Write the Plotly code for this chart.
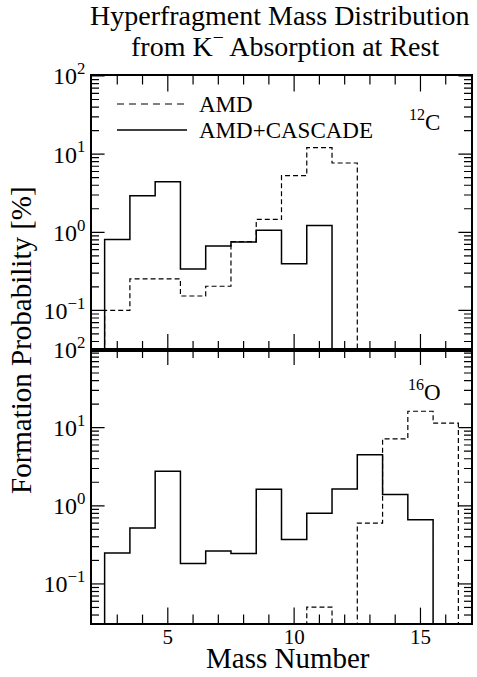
import plotly.graph_objects as go

# ---------------- data ----------------
mass_amd_c12 = [3, 4, 5, 6, 7, 8, 9, 10, 11, 12]
prob_amd_c12 = [0.10, 0.254, 0.254, 0.153, 0.204, 0.76, 1.46, 5.3, 12.1, 7.7]

mass_cas_c12 = [3, 4, 5, 6, 7, 8, 9, 10, 11]
prob_cas_c12 = [0.81, 2.93, 4.44, 0.34, 0.67, 0.75, 1.06, 0.395, 1.22]

mass_amd_o16 = [11, 12, 13, 14, 15, 16]
prob_amd_o16 = [0.0506, 0.0, 0.60, 7.2, 16.2, 11.4]

mass_cas_o16 = [3, 4, 5, 6, 7, 8, 9, 10, 11, 12, 13, 14, 15]
prob_cas_o16 = [0.248, 0.519, 2.76, 0.182, 0.264, 0.246, 1.63, 0.37, 0.80,
                1.64, 4.49, 1.39, 0.665]

x_ticks = [5, 10, 15]
x_minor = [v for v in range(3, 17) if v not in x_ticks]
y_ticks = [0.1, 1, 10, 100]
y_ticktext = ["10<sup>−1</sup>", "10<sup>0</sup>", "10<sup>1</sup>", "10<sup>2</sup>"]
y_minor = [k * 10.0 ** e for e in (-2, -1, 0, 1) for k in range(2, 10)
           if k * 10.0 ** e >= 0.0316]

X_RANGE = [2, 17]
Y_LOGRANGE = [-1.5, 2]

FONT = "Liberation Serif"
FLOOR = 1e-4  # zero / below-range level for histogram edges


def step(masses, probs):
    xs = [masses[0] - 0.5]
    ys = [FLOOR]
    for a, p in zip(masses, probs):
        p = p if p > 0 else FLOOR
        xs += [a - 0.5, a + 0.5]
        ys += [p, p]
    xs.append(masses[-1] + 0.5)
    ys.append(FLOOR)
    return xs, ys


fig = go.Figure()

solid = dict(color="black", width=1.5)
dashed = dict(color="black", width=1.2, dash="5px,3px")

for (m, p, ln, name, xa, ya) in [
    (mass_amd_c12, prob_amd_c12, dashed, "AMD", "x2", "y2"),
    (mass_cas_c12, prob_cas_c12, solid, "AMD+CASCADE", "x2", "y2"),
    (mass_amd_o16, prob_amd_o16, dashed, "AMD", "x", "y"),
    (mass_cas_o16, prob_cas_o16, solid, "AMD+CASCADE", "x", "y"),
]:
    xs, ys = step(m, p)
    fig.add_trace(go.Scatter(x=xs, y=ys, mode="lines", line=ln, name=name,
                             xaxis=xa, yaxis=ya, showlegend=False,
                             hoverinfo="skip"))

# ---- inside tick marks: line markers centred on the frame, clipped to the plot ----
y_lo, y_hi = 10 ** Y_LOGRANGE[0], 10 ** Y_LOGRANGE[1]


def tickmarks(xs, ys, symbol, length, xa, ya):
    fig.add_trace(go.Scatter(
        x=xs, y=ys, mode="markers", xaxis=xa, yaxis=ya, showlegend=False,
        hoverinfo="skip", cliponaxis=True,
        marker=dict(symbol=symbol, size=2 * length, color="black",
                    line=dict(color="black", width=1.2))))


for xa, ya in (("x", "y"), ("x2", "y2")):
    for vals, ln in ((x_ticks, 11), (x_minor, 6)):
        tickmarks(vals * 2, [y_lo] * len(vals) + [y_hi] * len(vals),
                  "line-ns", ln, xa, ya)
    for vals, ln in ((y_ticks, 9), (y_minor, 5)):
        tickmarks([X_RANGE[0]] * len(vals) + [X_RANGE[1]] * len(vals), vals * 2,
                  "line-ew", ln, xa, ya)

xcommon = dict(range=X_RANGE, showline=True, linecolor="black", linewidth=1.5,
               mirror=True, ticks="", tickmode="array", tickvals=x_ticks,
               showgrid=False, zeroline=False,
               tickfont=dict(family=FONT, size=21, color="black"))
ycommon = dict(type="log", range=Y_LOGRANGE, showline=True, linecolor="black",
               linewidth=1.5, mirror=True, ticks="", tickmode="array",
               tickvals=y_ticks, ticktext=y_ticktext, showgrid=False,
               zeroline=False, tickfont=dict(family=FONT, size=24, color="black"))

W, H = 477, 677
ML, MR, MT, MB = 92, 6, 76, 54
pw = W - ML - MR
ph = H - MT - MB


def px(x):
    return (x - ML) / pw


def py(y):
    return (H - MB - y) / ph


fig.update_layout(
    template="none",
    width=W, height=H,
    margin=dict(l=ML, r=MR, t=MT, b=MB),
    paper_bgcolor="white", plot_bgcolor="white",
    font=dict(family=FONT, color="black"),
    xaxis=dict(**xcommon, ticklabelstandoff=-6, domain=[0, 1], anchor="y"),
    yaxis=dict(**ycommon, domain=[0, 0.5], anchor="x"),
    xaxis2=dict(**xcommon, showticklabels=False, domain=[0, 1], anchor="y2"),
    yaxis2=dict(**ycommon, domain=[0.5, 1], anchor="x2"),
)

# ---- legend samples ----
fig.add_shape(type="line", xref="paper", yref="paper", x0=px(117), x1=px(187),
              y0=py(104), y1=py(104),
              line=dict(color="black", width=1.2, dash="7px,5px"))
fig.add_shape(type="line", xref="paper", yref="paper", x0=px(117), x1=px(187),
              y0=py(130), y1=py(130), line=dict(color="black", width=1.5))


def note(text, x, y, size, **kw):
    d = dict(text=text, xref="paper", yref="paper", x=px(x), y=py(y),
             xanchor="center", yanchor="middle", showarrow=False,
             font=dict(size=size, family=FONT, color="black"))
    d.update(kw)
    return d


ann = [
    note("Hyperfragment Mass Distribution", 280, 16, 28),
    note("from K<sup>−</sup> Absorption at Rest", 285, 45, 28),
    note("Formation Probability [%]", 21, 340, 29, textangle=-90),
    note("Mass Number", 288, 658, 29),
    note("<sup>12</sup>C", 424, 121, 23),
    note("<sup>16</sup>O", 424, 390, 23),
    note("AMD", 197, 104, 23, xanchor="left"),
    note("AMD+CASCADE", 197, 130, 23, xanchor="left"),
]
fig.update_layout(annotations=ann)

fig.write_html("out.html", config={"displayModeBar": False},
               post_script="document.body.style.margin='0';document.body.style.overflow='hidden';")
